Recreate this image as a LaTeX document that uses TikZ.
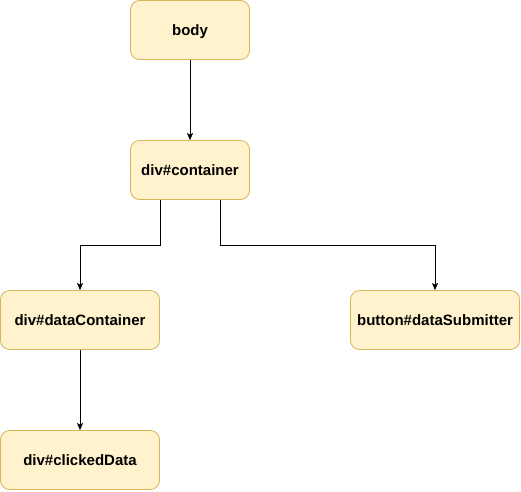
\documentclass[tikz,border=0pt]{standalone}
\usepackage{fontspec}
\setmainfont{Liberation Sans}
\usepackage{tikz}
\usetikzlibrary{positioning,arrows.meta}
\definecolor{boxfill}{HTML}{FFF2CC}
\definecolor{boxline}{HTML}{D6B656}

\begin{document}
\begin{tikzpicture}[x=1pt, y=-1pt,
    elem/.style={rectangle, rounded corners=9pt, draw=boxline, fill=boxfill, line width=0.8pt,
        minimum height=59pt, inner sep=0pt, text height=11pt, text depth=0pt,
        font=\fontsize{15}{18}\selectfont\bfseries},
    link/.style={line width=0.8pt, -{Stealth[length=7pt, width=6pt, inset=1.5pt]}}]
    \useasboundingbox (0,0) rectangle (521,491);

    % DOM nodes
    \node[elem, minimum width=119pt] (body) at (190, 30) {body};
    \node[elem, minimum width=119pt] (container) at (190, 170) {div\#container};
    \node[elem, minimum width=159pt] (dataContainer) at (80, 320) {div\#dataContainer};
    \node[elem, minimum width=169pt] (dataSubmitter) at (435, 320) {button\#dataSubmitter};
    \node[elem, minimum width=159pt] (clickedData) at (80, 460) {div\#clickedData};

    % Edges
    \draw[link] (body) -- (container);
    \draw[link] ([xshift=-30pt]container.south) -- ++(0, 45) -| (dataContainer.north);
    \draw[link] ([xshift=30pt]container.south) -- ++(0, 45) -| (dataSubmitter.north);
    \draw[link] (dataContainer) -- (clickedData);
\end{tikzpicture}
\end{document}
